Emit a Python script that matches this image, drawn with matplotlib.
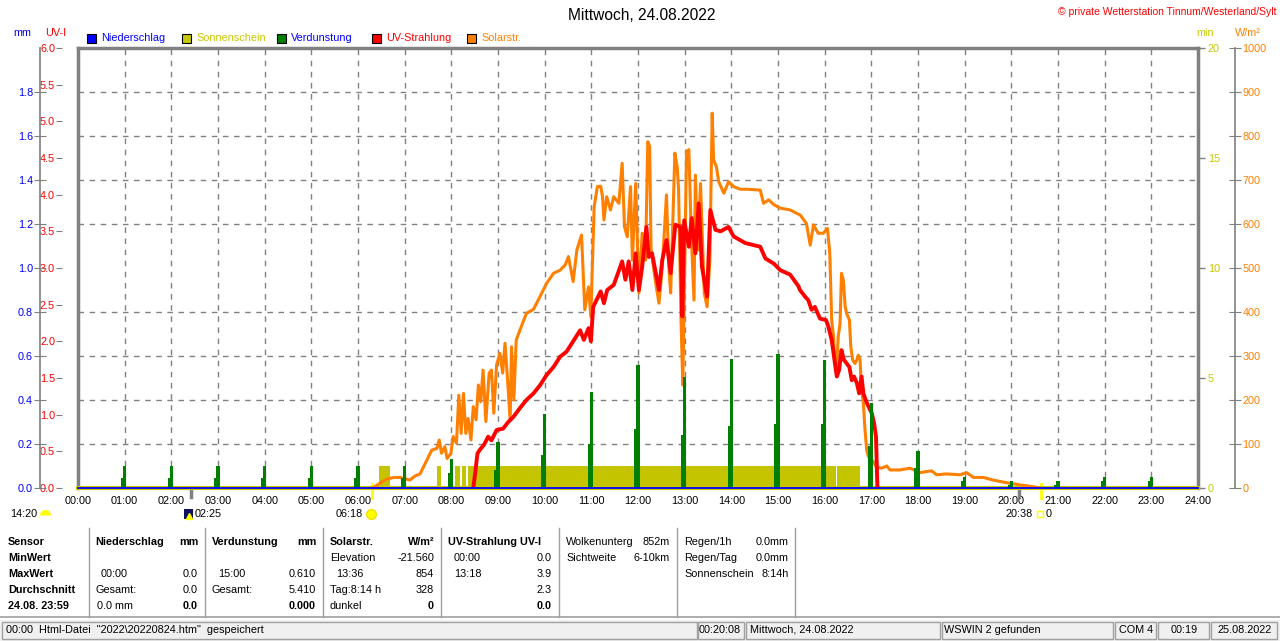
import numpy as np
import matplotlib.pyplot as plt
from matplotlib.lines import Line2D
from matplotlib.patches import Rectangle

plt.rcParams['font.family'] = ['Liberation Sans', 'DejaVu Sans']
plt.rcParams['font.size'] = 7.8

W, H = 1280, 641

# Stunden / Beschriftung
stunden = np.arange(0, 25)
x_labels = ['%02d:00' % h for h in stunden]

# Solarstrahlung (W/m²)
sol_t = [6.30, 6.36, 6.47, 6.61, 6.76, 6.90, 7.04, 7.11, 7.22, 7.33, 7.44, 7.58, 7.69, 7.74, 7.79,
         7.86, 7.91, 7.99, 8.04, 8.11, 8.16, 8.21, 8.26, 8.31, 8.36, 8.42, 8.47, 8.53, 8.58, 8.63,
         8.68, 8.74, 8.81, 8.86, 8.91, 8.97, 9.04, 9.10, 9.15, 9.20, 9.26, 9.29, 9.34, 9.39, 9.47,
         9.61, 9.76, 9.90, 10.04, 10.19, 10.33, 10.44, 10.51, 10.61, 10.69, 10.79, 10.86, 10.94, 10.99,
         11.06, 11.13, 11.20, 11.24, 11.27, 11.33, 11.41, 11.48, 11.59, 11.66, 11.71, 11.77, 11.84,
         11.88, 11.95, 12.02, 12.09, 12.16, 12.21, 12.25, 12.28, 12.38, 12.45, 12.52, 12.61, 12.66,
         12.70, 12.79, 12.84, 12.87, 12.92, 12.96, 13.04, 13.09, 13.14, 13.20, 13.23, 13.28, 13.34,
         13.42, 13.48, 13.54, 13.59, 13.62, 13.68, 13.73, 13.84, 13.94, 14.05, 14.19, 14.34, 14.62,
         14.69, 14.80, 14.91, 15.05, 15.26, 15.48, 15.61, 15.69, 15.76, 15.86, 15.97, 16.06, 16.11,
         16.15, 16.19, 16.22, 16.26, 16.29, 16.33, 16.36, 16.40, 16.44, 16.47, 16.53, 16.56, 16.60,
         16.65, 16.69, 16.72, 16.76, 16.78, 16.83, 16.86, 16.90, 16.94, 17.01, 17.11, 17.22, 17.33,
         17.40, 17.61, 17.83, 18.04, 18.29, 18.40, 18.61, 18.90, 19.04, 19.19, 19.40, 19.61, 19.90,
         20.19, 20.47, 20.60]
sol_w = [0, 3, 11, 20, 24, 24, 20, 18, 27, 32, 56, 86, 90, 109, 79,
         94, 67, 79, 117, 102, 211, 124, 215, 124, 158, 109, 185, 155, 234, 196,
         268, 151, 261, 268, 170, 280, 306, 261, 329, 253, 155, 321, 200, 336, 359,
         397, 406, 435, 465, 488, 495, 507, 526, 469, 541, 575, 405, 457, 389,
         639, 685, 686, 662, 609, 662, 632, 662, 647, 738, 594, 571, 685,
         518, 692, 443, 579, 518, 787, 776, 541, 465, 420, 503, 666, 503,
         443, 761, 730, 678, 389, 234, 765, 769, 579, 427, 711, 541, 692,
         443, 412, 518, 852, 746, 730, 696, 670, 696, 685, 679, 679, 677,
         647, 655, 644, 636, 632, 620, 601, 552, 598, 579, 579, 590, 533,
         382, 344, 283, 276, 344, 374, 488, 473, 412, 397, 382, 321, 291,
         283, 291, 302, 291, 238, 192, 139, 86, 71, 64, 48, 45, 50,
         41, 41, 45, 35, 39, 30, 32, 30, 35, 24, 24, 18, 12,
         7, 3, 0]

# UV-Index
uv_t = [8.47, 8.51, 8.56, 8.61, 8.70, 8.79, 8.86, 8.97, 9.11, 9.22, 9.33, 9.47, 9.61, 9.76, 9.90,
        10.04, 10.19, 10.33, 10.47, 10.61, 10.76, 10.84, 10.94, 10.99, 11.04, 11.20, 11.27, 11.34,
        11.48, 11.56, 11.66, 11.73, 11.80, 11.88, 11.95, 12.02, 12.09, 12.18, 12.23, 12.30, 12.37,
        12.45, 12.52, 12.61, 12.70, 12.80, 12.91, 12.95, 12.99, 13.09, 13.15, 13.23, 13.30, 13.37,
        13.48, 13.55, 13.66, 13.77, 13.94, 14.05, 14.30, 14.62, 14.73, 14.91, 15.05, 15.26, 15.44,
        15.47, 15.58, 15.65, 15.72, 15.79, 15.90, 16.03, 16.08, 16.15, 16.19, 16.22, 16.26, 16.31,
        16.36, 16.41, 16.47, 16.53, 16.58, 16.63, 16.69, 16.74, 16.79, 16.83, 16.89, 16.94, 17.01,
        17.06, 17.10, 17.13]
uv_i = [0.0, 0.2, 0.47, 0.52, 0.59, 0.70, 0.65, 0.79, 0.81, 0.90, 0.97, 1.09, 1.20, 1.29, 1.40,
        1.54, 1.65, 1.79, 1.86, 2.0, 2.15, 2.02, 2.18, 2.0, 2.47, 2.68, 2.52, 2.70,
        2.77, 2.91, 3.09, 2.84, 3.09, 2.70, 3.20, 2.70, 3.02, 3.56, 3.15, 3.20, 2.97,
        2.70, 3.11, 3.38, 2.93, 3.59, 3.56, 2.34, 3.65, 3.29, 3.68, 3.20, 3.88, 3.02,
        2.61, 3.79, 3.52, 3.50, 3.56, 3.43, 3.34, 3.29, 3.13, 3.06, 2.97, 2.91, 2.75,
        2.70, 2.61, 2.56, 2.43, 2.47, 2.31, 2.29, 2.20, 2.02, 1.84, 1.70, 1.52, 1.61,
        1.88, 1.75, 1.70, 1.65, 1.47, 1.52, 1.43, 1.29, 1.52, 1.29, 1.18, 1.11, 1.02,
        0.88, 0.70, 0.0]

# Verdunstung (mm), stündlich
verd_h = list(range(1, 24))
verd_max = [0.10, 0.10, 0.10, 0.10, 0.10, 0.10, 0.10, 0.13, 0.21, 0.335, 0.435, 0.56,
            0.505, 0.585, 0.61, 0.58, 0.385, 0.17, 0.05, 0.03, 0.03, 0.05, 0.05]
verd_lo = [0.047, 0.047, 0.047, 0.047, 0.047, 0.047, 0.047, 0.067, 0.08, 0.148, 0.2, 0.27,
           0.24, 0.28, 0.29, 0.29, 0.19, 0.09, 0.03, 0.015, 0.015, 0.03, 0.03]

# Sonnenschein (min)
sonne_von = [6.46, 7.70, 8.08, 8.22, 8.36, 16.27]
sonne_bis = [6.69, 7.77, 8.19, 8.31, 16.24, 16.76]
sonne_min = [1, 1, 1, 1, 1, 1]

# Niederschlag (mm)
regen_t = [0, 24]
regen_mm = [0.0, 0.0]

# Sonnenaufgang / -untergang, Mond
sonne_auf, sonne_unter = 6.3, 20.633
mond_t = [2.4167, 20.17]

GRAU = '#808080'
GELB = '#c8c800'
ORANGE = '#ff8000'

fig = plt.figure(figsize=(12.8, 6.41), dpi=100)


def txt(x, y, s, **kw):
    kw.setdefault('va', 'center')
    fig.text(x / W, 1 - y / H, s, **kw)


def linie(x0, y0, x1, y1, **kw):
    fig.add_artist(Line2D([x0 / W, x1 / W], [1 - y0 / H, 1 - y1 / H], transform=fig.transFigure, **kw))


ax = fig.add_axes([78 / W, 1 - 488 / H, 1120 / W, 440 / H])
ax_w = ax.twinx()
ax_uv = ax.twinx()
ax_mm = ax.twinx()
for i, a in enumerate([ax, ax_w, ax_uv, ax_mm]):
    a.set_zorder(i)
    a.set_xlim(0, 24)
    for s in a.spines.values():
        s.set_visible(False)

# Sonnenschein-Achse (min), Rahmen und Gitter
ax.set_ylim(0, 20)
ax.yaxis.tick_right()
ax.set_yticks([0, 5, 10, 15, 20])
ax.set_yticks(np.arange(2, 20, 2), minor=True)
ax.tick_params(axis='y', which='major', colors=GRAU, labelcolor=GELB, length=5, width=1, pad=2)
ax.tick_params(axis='y', which='minor', length=0)
ax.set_xticks(stunden)
ax.set_xticklabels(x_labels)
ax.tick_params(axis='x', length=0, pad=5.5)
ax.grid(axis='x', color=GRAU, ls=(0, (4, 4)), lw=1)
ax.grid(axis='y', which='minor', color=GRAU, ls=(0, (4, 4)), lw=1)
for s in ['left', 'top', 'right']:
    ax.spines[s].set_visible(True)
    ax.spines[s].set_color(GRAU)
    ax.spines[s].set_linewidth(2.5)
ax.spines['bottom'].set_visible(True)
ax.spines['bottom'].set_color(GELB)
ax.spines['bottom'].set_linewidth(3)
ax.bar(sonne_von, sonne_min, width=np.subtract(sonne_bis, sonne_von), align='edge',
       color='#c4c400', lw=0)

# Markierungen unter der Achse
tr = ax.get_xaxis_transform()
for t in [sonne_auf, sonne_unter]:
    ax.plot([t, t], [0.01, -0.022], transform=tr, color='#ffff00', lw=2, clip_on=False)
for t in mond_t:
    ax.plot([t, t], [0.0, -0.02], transform=tr, color=GRAU, lw=2.5, clip_on=False)

# Solarstrahlung
ax_w.set_ylim(0, 1000)
ax_w.set_yticks(np.arange(0, 1001, 100))
ax_w.spines['right'].set_visible(True)
ax_w.spines['right'].set_position(('axes', 1 + 37 / 1120))
ax_w.spines['right'].set_color(GRAU)
ax_w.spines['right'].set_linewidth(1.2)
ax_w.tick_params(axis='y', direction='inout', length=9, colors=GRAU, labelcolor=ORANGE, pad=1)
ax_w.plot(sol_t, sol_w, color=ORANGE, lw=2.2)

# UV-Strahlung
ax_uv.set_ylim(0, 6)
ax_uv.yaxis.set_ticks_position('left')
ax_uv.spines['left'].set_position(('axes', -16 / 1120))
ax_uv.set_yticks(np.arange(0, 6.01, 0.5))
ax_uv.set_yticklabels(['%.1f' % v for v in np.arange(0, 6.01, 0.5)])
ax_uv.tick_params(axis='y', length=4, colors=GRAU, labelcolor='#ff0000', pad=1)
ax_uv.plot(uv_t, uv_i, color='#ff0000', lw=2.8)

# Verdunstung / Niederschlag (mm)
ax_mm.set_ylim(0, 2)
ax_mm.yaxis.set_ticks_position('left')
ax_mm.spines['left'].set_visible(True)
ax_mm.spines['left'].set_position(('axes', -38 / 1120))
ax_mm.spines['left'].set_color(GRAU)
ax_mm.spines['left'].set_linewidth(1.2)
ax_mm.set_yticks(np.arange(0, 1.81, 0.2))
ax_mm.set_yticklabels(['%.1f' % v for v in np.arange(0, 1.81, 0.2)])
ax_mm.tick_params(axis='y', direction='inout', length=8, colors=GRAU, labelcolor='#0000ff', pad=1)
ax_mm.bar(np.array(verd_h) - 0.08, verd_lo, width=0.11, align='edge', color='#008000', lw=0)
ax_mm.bar(verd_h, verd_max, width=0.07, color='#008000', lw=0)
ax_mm.plot(regen_t, regen_mm, color='#0000ff', lw=1.3, clip_on=False)

# Kopfzeile
txt(642, 15, 'Mittwoch, 24.08.2022', ha='center', fontsize=11.2)
txt(1276, 12, '© private Wetterstation Tinnum/Westerland/Sylt', ha='right', color='#ff0000', fontsize=7.5)
txt(22, 33, 'mm', ha='center', color='#0000ff')
txt(56, 33, 'UV-I', ha='center', color='#ff0000')
txt(1205, 33, 'min', ha='center', color=GELB)
txt(1248, 33, 'W/m²', ha='center', color=ORANGE)

legende = [('Niederschlag', '#0000ff', '#0000ff', 87),
           ('Sonnenschein', '#c8c800', '#c8c800', 182),
           ('Verdunstung', '#008000', '#0000ff', 277),
           ('UV-Strahlung', '#ff0000', '#ff0000', 372),
           ('Solarstr.', ORANGE, ORANGE, 467)]
for name, fc, tc, x0 in legende:
    fig.add_artist(Rectangle((x0 / W, 1 - 43 / H), 9 / W, 9 / H, transform=fig.transFigure,
                             fc=fc, ec='black', lw=0.8))
    txt(x0 + 14, 38, name, color=tc)

# Zeiten unter der Achse
txt(10, 514, '14:20')
fig.add_artist(Line2D([45 / W], [1 - 515 / H], marker='o', fillstyle='top', color='#ffff00',
                      markerfacecoloralt='none', markeredgewidth=0, markersize=8,
                      transform=fig.transFigure))
fig.add_artist(Rectangle((184 / W, 1 - 519 / H), 9 / W, 10 / H, transform=fig.transFigure,
                         fc='#101060', ec='none'))
fig.add_artist(Line2D([189 / W], [1 - 516 / H], marker='^', color='#ffff00', markersize=4,
                      lw=0, transform=fig.transFigure))
txt(195, 514, '02:25')
txt(363, 514, '06:18', ha='right')
fig.add_artist(Line2D([371 / W], [1 - 514 / H], marker='o', color='#ffff00', markeredgecolor='#f0e000',
                      markersize=7, lw=0, transform=fig.transFigure))
txt(1033, 514, '20:38', ha='right')
fig.add_artist(Line2D([1040 / W], [1 - 514 / H], marker='s', markerfacecolor='none',
                      markeredgecolor='#ffff00', markersize=5, lw=0, transform=fig.transFigure))
txt(1046, 514, '0')

# Tabelle
for x0 in [89, 205, 323, 441, 559, 677, 795]:
    linie(x0, 528, x0, 617, color='#a0a0a0', lw=1)
linie(0, 617, 1280, 617, color='#a0a0a0', lw=1.2)

rows = [542, 558, 574, 590, 606]
for y, s in zip(rows, ['Sensor', 'MinWert', 'MaxWert', 'Durchschnitt', '24.08. 23:59']):
    txt(8, y, s, fontweight='bold')

txt(95, rows[0], 'Niederschlag', fontweight='bold')
txt(198, rows[0], 'mm', ha='right', fontweight='bold')
txt(101, rows[2], '00:00')
txt(198, rows[2], '0.0', ha='right')
txt(95, rows[3], 'Gesamt:')
txt(198, rows[3], '0.0', ha='right')
txt(97, rows[4], '0.0 mm')
txt(198, rows[4], '0.0', ha='right', fontweight='bold')

txt(212, rows[0], 'Verdunstung', fontweight='bold')
txt(316, rows[0], 'mm', ha='right', fontweight='bold')
txt(218, rows[2], '15:00')
txt(316, rows[2], '0.610', ha='right')
txt(212, rows[3], 'Gesamt:')
txt(316, rows[3], '5.410', ha='right')
txt(316, rows[4], '0.000', ha='right', fontweight='bold')

txt(330, rows[0], 'Solarstr.', fontweight='bold')
txt(434, rows[0], 'W/m²', ha='right', fontweight='bold')
txt(330, rows[1], 'Elevation')
txt(434, rows[1], '-21.560', ha='right')
txt(336, rows[2], '13:36')
txt(434, rows[2], '854', ha='right')
txt(330, rows[3], 'Tag:8:14 h')
txt(434, rows[3], '328', ha='right')
txt(330, rows[4], 'dunkel')
txt(434, rows[4], '0', ha='right', fontweight='bold')

txt(448, rows[0], 'UV-Strahlung UV-I', fontweight='bold')
txt(454, rows[1], '00:00')
txt(552, rows[1], '0.0', ha='right')
txt(454, rows[2], '13:18')
txt(552, rows[2], '3.9', ha='right')
txt(552, rows[3], '2.3', ha='right')
txt(552, rows[4], '0.0', ha='right', fontweight='bold')

txt(566, rows[0], 'Wolkenunterg')
txt(670, rows[0], '852m', ha='right')
txt(566, rows[1], 'Sichtweite')
txt(670, rows[1], '6-10km', ha='right')

txt(684, rows[0], 'Regen/1h')
txt(789, rows[0], '0.0mm', ha='right')
txt(684, rows[1], 'Regen/Tag')
txt(789, rows[1], '0.0mm', ha='right')
txt(684, rows[2], 'Sonnenschein')
txt(789, rows[2], '8:14h', ha='right')

# Statusleiste
fig.add_artist(Rectangle((0, 0), 1, 21 / H, transform=fig.transFigure, fc='#f0f0f0', ec='none'))
felder = [(2, 697), (698, 744), (746, 940), (942, 1113), (1115, 1156), (1158, 1209), (1211, 1277)]
for a, b in felder:
    fig.add_artist(Rectangle((a / W, 1 - 639 / H), (b - a) / W, 17 / H, transform=fig.transFigure,
                             fc='#f0f0f0', ec='#a0a0a0', lw=1))
txt(6, 630, '00:00  Html-Datei  "2022\\20220824.htm"  gespeichert')
txt(741, 630, '00:20:08', ha='right')
txt(750, 630, 'Mittwoch, 24.08.2022')
txt(944, 630, 'WSWIN 2 gefunden')
txt(1119, 630, 'COM 4')
txt(1171, 630, '00:19')
txt(1218, 630, '25.08.2022')

fig.savefig('out.png', dpi=100)
